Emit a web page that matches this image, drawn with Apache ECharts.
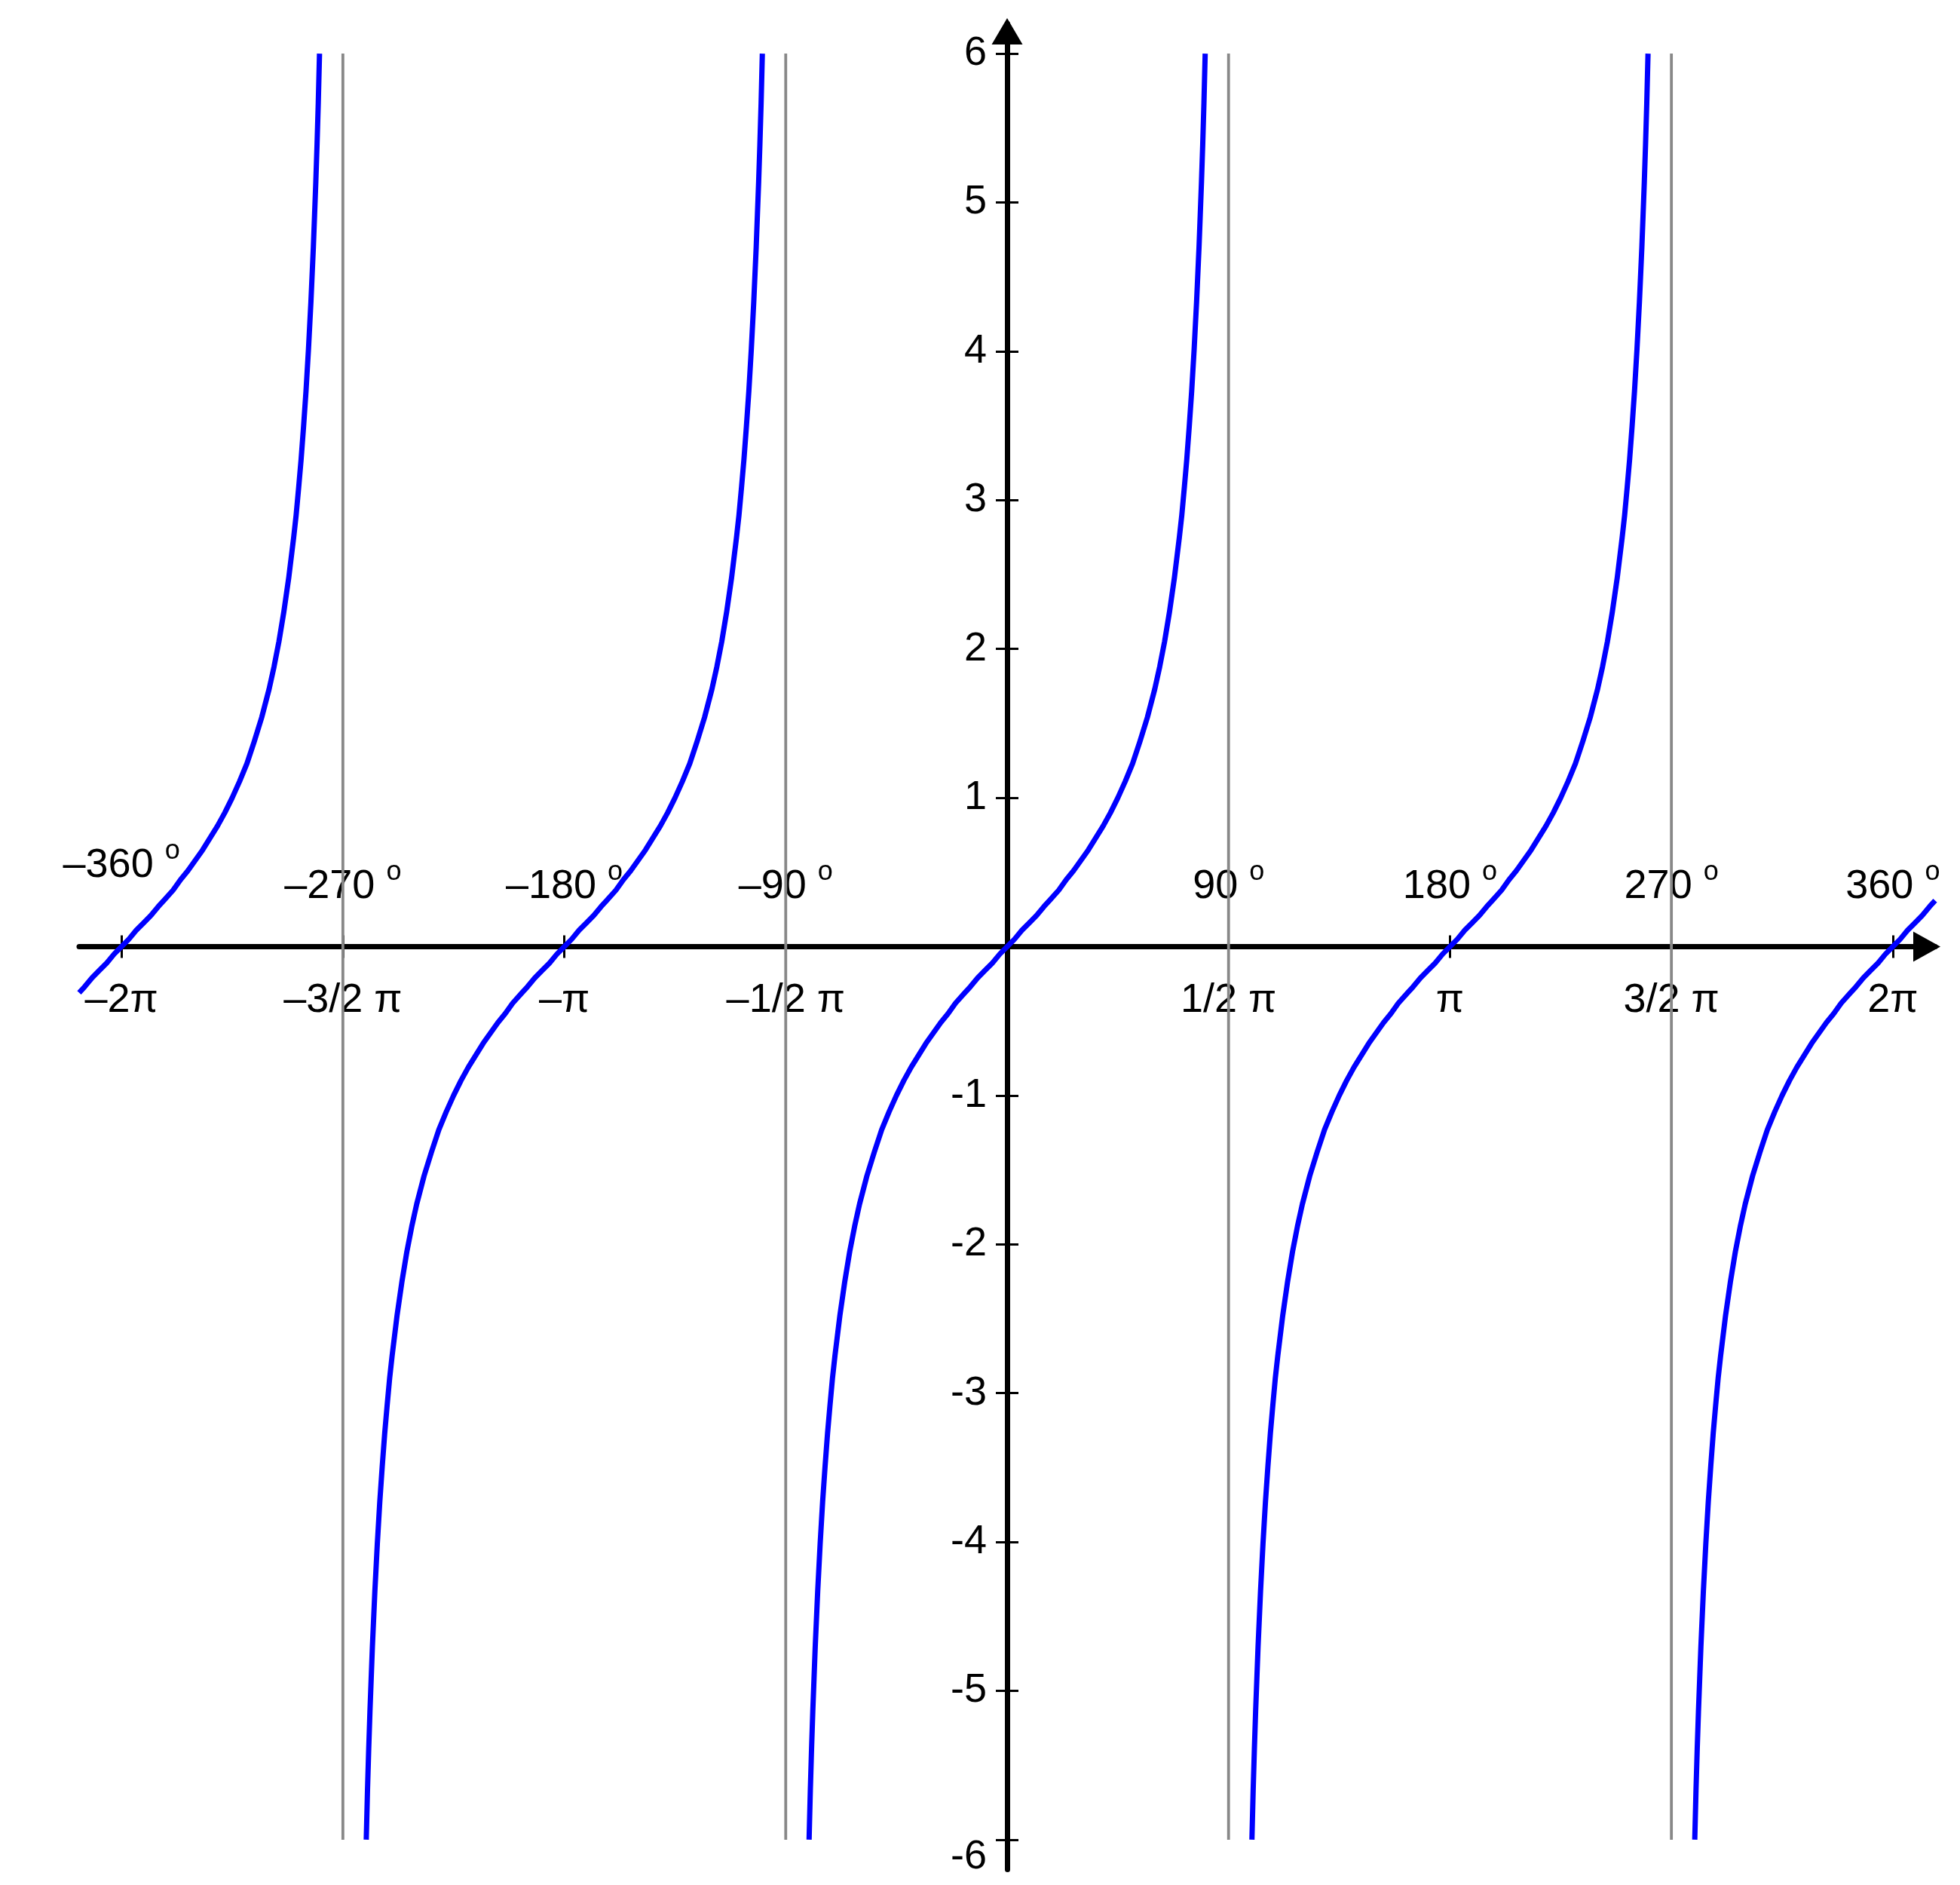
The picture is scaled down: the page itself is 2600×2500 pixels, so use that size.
<!DOCTYPE html>
<html><head><meta charset="utf-8">
<script src="https://cdn.jsdelivr.net/npm/echarts@6/dist/echarts.min.js"></script>
<style>html,body{margin:0;padding:0;background:#fff}#c{width:2600px;height:2500px}</style>
</head><body><div id="c"></div>
<script>
// ---- data (x in degrees) ----
const xRange = [-377.2, 377.2];
const yRange = [-6.2, 6.2];
const yTickValues = [-6, -5, -4, -3, -2, -1, 1, 2, 3, 4, 5, 6];
const yLabelValues = [-5, -4, -3, -2, -1, 1, 2, 3, 4, 5, 6];
const yLowLabelValues = [-6];
const xTickValues = [-360, -270, -180, -90, 90, 180, 270, 360];
const piLabels = ['–2π', '–3/2 π', '–π', '–1/2 π', '1/2 π', 'π', '3/2 π', '2π'];
const degreeLabels = ['–360', '–270', '–180', '–90', '90', '180', '270', '360'];
const degreeLabelValues = [-270, -180, -90, 90, 180, 270, 360];
const raisedDegreeLabelValues = [-360];
const asymptotes = [-270, -90, 90, 270];
const asymptoteSpan = [-6, 6];
const branchCenters = [-360, -180, 0, 180, 360];
const branchOffsets = [-80.5, -80, -79.5, -79, -78.5, -78, -77, -76, -75, -74, -73, -72, -71, -70, -68, -66, -64, -62, -60, -57, -54, -51, -48, -45, -42, -39, -36, -33, -30, -27, -24, -21, -17.2, -15, -12, -9, -6, -3, 0,
  3, 6, 9, 12, 15, 17.2, 21, 24, 27, 30, 33, 36, 39, 42, 45, 48, 51, 54, 57, 60, 62, 64, 66, 68, 70, 71, 72, 73, 74, 75, 76, 77, 78, 78.5, 79, 79.5, 80, 80.5];
const branchValues = [-6, -5.67, -5.39, -5.14, -4.92, -4.7, -4.33, -4.01, -3.73, -3.49, -3.27, -3.08, -2.9, -2.75, -2.48, -2.25, -2.05, -1.88, -1.73, -1.54, -1.38, -1.23, -1.11, -1, -0.9, -0.81, -0.73, -0.65, -0.58, -0.51, -0.45, -0.38, -0.31, -0.27, -0.21, -0.16, -0.11, -0.05, 0,
  0.05, 0.11, 0.16, 0.21, 0.27, 0.31, 0.38, 0.45, 0.51, 0.58, 0.65, 0.73, 0.81, 0.9, 1, 1.11, 1.23, 1.38, 1.54, 1.73, 1.88, 2.05, 2.25, 2.48, 2.75, 2.9, 3.08, 3.27, 3.49, 3.73, 4.01, 4.33, 4.7, 4.92, 5.14, 5.39, 5.67, 6];

// ---- build ----
const FONT = '"Liberation Sans", Arial, sans-serif';
const W = 2600, H = 2500;
const grid = { left: 105, right: 33, top: 31.6, bottom: 20.6 };
const plotW = W - grid.left - grid.right, plotH = H - grid.top - grid.bottom;
const x0px = grid.left + (0 - xRange[0]) / (xRange[1] - xRange[0]) * plotW;
const y0px = grid.top + (yRange[1] - 0) / (yRange[1] - yRange[0]) * plotH;
const yAxisOffset = -(x0px - grid.left);          // left-positioned axis moved to x = 0
const xAxisOffset = -((H - grid.bottom) - y0px);  // bottom-positioned axis moved to y = 0
const labelOf = (arr, v) => arr[xTickValues.indexOf(v)];

const series = [];
asymptotes.forEach(a => {
  series.push({
    type: 'line', xAxisIndex: 0, yAxisIndex: 0, silent: true, symbol: 'none',
    data: asymptoteSpan.map(y => [a, y]),
    lineStyle: { color: '#888888', width: 3.8 }, z: 3
  });
});
branchCenters.forEach(c => {
  const pts = [];
  branchOffsets.forEach((o, i) => {
    const x = c + o;
    if (x >= xRange[0] - 1e-6 && x <= xRange[1] + 1e-6) pts.push([x, branchValues[i]]);
  });
  series.push({
    type: 'line', xAxisIndex: 0, yAxisIndex: 0, silent: true, symbol: 'none',
    smooth: false, clip: false,
    data: pts, lineStyle: { color: '#0000ff', width: 7, join: 'round' }, z: 4
  });
});

const baseX = { type: 'value', min: xRange[0], max: xRange[1], position: 'bottom', offset: xAxisOffset, splitLine: { show: false } };
const baseY = { type: 'value', min: yRange[0], max: yRange[1], position: 'left', offset: yAxisOffset, splitLine: { show: false } };
const degRich = {
  n: { fontSize: 54, lineHeight: 54, verticalAlign: 'bottom', fontFamily: FONT, color: '#000' },
  s: { fontSize: 36, lineHeight: 64, verticalAlign: 'top', fontFamily: FONT, color: '#000' }
};
const degFormatter = v => '{n|' + labelOf(degreeLabels, v) + ' }{s|o}';

const option = {
  backgroundColor: '#ffffff',
  animation: false,
  grid: { left: grid.left, right: grid.right, top: grid.top, bottom: grid.bottom, containLabel: false, outerBoundsMode: 'none' },
  xAxis: [
    Object.assign({}, baseX, {
      axisLine: { show: true, onZero: false, symbol: ['none', 'triangle'], symbolSize: [40, 36], symbolOffset: [0, -11],
        lineStyle: { color: '#000', width: 7 } },
      axisTick: { show: true, inside: false, length: 15, customValues: xTickValues, lineStyle: { color: '#000', width: 3 } },
      axisLabel: { show: true, customValues: xTickValues, margin: 45, fontSize: 54, lineHeight: 54, fontFamily: FONT, color: '#000',
        formatter: v => labelOf(piLabels, v) }
    }),
    Object.assign({}, baseX, {
      axisLine: { show: false, onZero: false },
      axisTick: { show: true, inside: true, length: 15, customValues: xTickValues, lineStyle: { color: '#000', width: 3 } },
      axisLabel: { show: true, inside: true, customValues: degreeLabelValues, margin: 52, formatter: degFormatter, rich: degRich }
    }),
    Object.assign({}, baseX, {
      axisLine: { show: false, onZero: false },
      axisTick: { show: false },
      axisLabel: { show: true, inside: true, customValues: raisedDegreeLabelValues, margin: 80, formatter: degFormatter, rich: degRich }
    })
  ],
  yAxis: [
    Object.assign({}, baseY, {
      axisLine: { show: true, onZero: false, symbol: ['none', 'triangle'], symbolSize: [41, 35], symbolOffset: [0, -10],
        lineStyle: { color: '#000', width: 7 } },
      axisTick: { show: true, inside: false, length: 15, customValues: yTickValues, lineStyle: { color: '#000', width: 3 } },
      axisLabel: { show: true, customValues: yLabelValues, margin: 27, fontSize: 54, fontFamily: FONT, color: '#000', padding: [0, 0, 6, 0] }
    }),
    Object.assign({}, baseY, {
      axisLine: { show: false, onZero: false },
      axisTick: { show: true, inside: true, length: 15, customValues: yTickValues, lineStyle: { color: '#000', width: 3 } },
      axisLabel: { show: true, customValues: yLowLabelValues, margin: 27, fontSize: 54, lineHeight: 46, verticalAlign: 'top', fontFamily: FONT, color: '#000' }
    })
  ],
  series: series
};
const chart = echarts.init(document.getElementById('c'), null, { renderer: 'canvas' });
chart.setOption(option);
</script>
</body></html>
